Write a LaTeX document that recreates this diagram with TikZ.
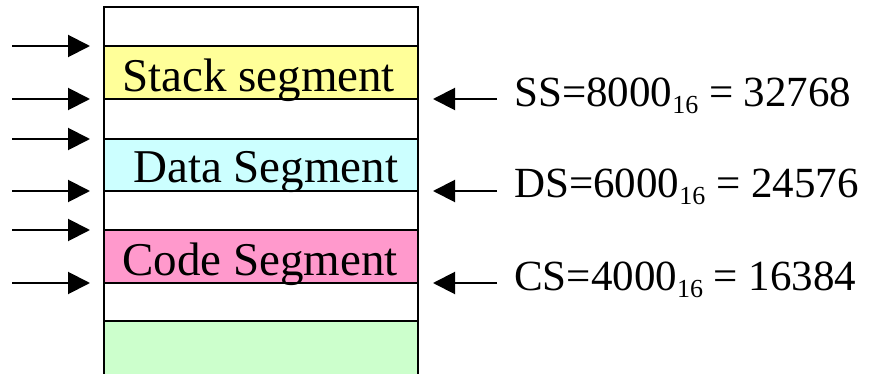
\documentclass[tikz,border=0pt]{standalone}
\usepackage{fontspec}
\setmainfont{Liberation Serif}
\usetikzlibrary{arrows.meta}
\definecolor{stackfill}{HTML}{FFFF99}
\definecolor{datafill}{HTML}{CCFFFF}
\definecolor{codefill}{HTML}{FF99CC}
\definecolor{freefill}{HTML}{CCFFCC}
\newcommand{\segsub}[1]{\raisebox{-7pt}{\fontsize{26}{26}\selectfont #1}}
\begin{document}
\begin{tikzpicture}[x=1pt,y=-1pt,
  wall/.style={line width=2.2pt},
  segbox/.style={draw, line width=2.2pt, rectangle, minimum width=314pt, inner sep=0pt, outer sep=0pt},
  seglabel/.style={anchor=base west, inner sep=0pt, font=\fontsize{47}{47}\selectfont},
  reglabel/.style={anchor=base west, inner sep=0pt, font=\fontsize{43}{43}\selectfont},
  ptr/.style={line width=2pt, -{Triangle[length=22pt,width=22pt]}}]
\useasboundingbox (0,0) rectangle (878,374);

% memory column: segments and free area
\node[segbox, fill=stackfill, minimum height=53pt, anchor=north west] (stack) at (104,46) {};
\node[segbox, fill=datafill, minimum height=52pt, anchor=north west] (data) at (104,139) {};
\node[segbox, fill=codefill, minimum height=53pt, anchor=north west] (code) at (104,230) {};
\fill[freefill] (104,321) rectangle (418,374);
\draw[wall] (104,321) -- (418,321);
\draw[wall] (104,374) -- (104,7) -- (418,7) -- (418,374);

% segment names
\node[seglabel] (stacklbl) at (122,92) {Stack segment};
\node[seglabel] (datalbl) at (133,183) {Data Segment};
\node[seglabel] (codelbl) at (122,275) {Code Segment};

% paragraph boundaries on the left
\foreach \seg in {stack,data,code}{
  \draw[ptr] ([xshift=-92pt]\seg.north west) -- ([xshift=-14pt]\seg.north west);
  \draw[ptr] ([xshift=-92pt]\seg.south west) -- ([xshift=-14pt]\seg.south west);
}

% segment register values
\node[reglabel] (ssval) at (514,107) {SS=8000\segsub{16} = 32768};
\node[reglabel] (dsval) at (514,198) {DS=6000\segsub{16} = 24576};
\node[reglabel] (csval) at (514,290) {CS=4000\segsub{16} = 16384};

\draw[ptr] ([xshift=79pt]stack.south east) -- ([xshift=15pt]stack.south east);
\draw[ptr] ([xshift=79pt]data.south east) -- ([xshift=15pt]data.south east);
\draw[ptr] ([xshift=79pt]code.south east) -- ([xshift=15pt]code.south east);
\end{tikzpicture}
\end{document}
